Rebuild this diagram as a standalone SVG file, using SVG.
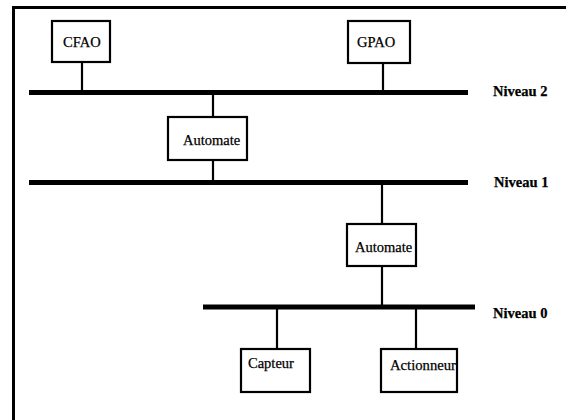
<svg xmlns="http://www.w3.org/2000/svg" width="566" height="420" viewBox="0 0 566 420">
<style>
.box{fill:#fff;stroke:#000;stroke-width:2.2}
.bus{stroke:#000;stroke-width:5}
.con{stroke:#000;stroke-width:2.2}
.frame{stroke:#000;stroke-width:3;fill:none}
text{font-family:'Liberation Serif','Times New Roman','DejaVu Serif',serif;fill:#000;stroke:#000;stroke-width:0.25}
.t{font-size:14.5px}
.lvl{font-size:14.5px;font-weight:bold}
</style>
<rect width="566" height="420" fill="#fff"/>
<g id="frame">
<path class="frame" d="M13.5,420 V7.5 H566"/>
</g>
<g id="buses">
<line id="bus2" class="bus" x1="29" y1="92.5" x2="468" y2="92.5"/>
<line id="bus1" class="bus" x1="29" y1="182.5" x2="468" y2="182.5"/>
<line id="bus0" class="bus" x1="203" y1="307" x2="475" y2="307"/>
</g>
<g id="connectors">
<line class="con" x1="82" y1="62" x2="82" y2="92"/>
<line class="con" x1="383" y1="63" x2="383" y2="92"/>
<line class="con" x1="213" y1="93" x2="213" y2="117"/>
<line class="con" x1="213" y1="160" x2="213" y2="182"/>
<line class="con" x1="382" y1="183" x2="382" y2="224"/>
<line class="con" x1="382" y1="266" x2="382" y2="307"/>
<line class="con" x1="277" y1="307" x2="277" y2="349"/>
<line class="con" x1="416" y1="307" x2="416" y2="349"/>
</g>
<g id="cfao">
<rect class="box" x="52" y="21" width="58" height="41"/>
<text class="t" x="63" y="47" font-family="Liberation Serif, serif">CFAO</text>
</g>
<g id="gpao">
<rect class="box" x="348" y="21" width="62" height="42"/>
<text class="t" x="357" y="47" font-family="Liberation Serif, serif">GPAO</text>
</g>
<g id="automate2">
<rect class="box" x="168" y="117" width="79" height="43"/>
<text class="t" x="183" y="145" font-family="Liberation Serif, serif">Automate</text>
</g>
<g id="automate1">
<rect class="box" x="347" y="224" width="69" height="42"/>
<text class="t" x="355" y="252" font-family="Liberation Serif, serif">Automate</text>
</g>
<g id="capteur">
<rect class="box" x="241" y="349" width="69" height="43"/>
<text class="t" x="248" y="368" font-family="Liberation Serif, serif">Capteur</text>
</g>
<g id="actionneur">
<rect class="box" x="381" y="349" width="76" height="43"/>
<text class="t" x="390" y="370" textLength="66" lengthAdjust="spacingAndGlyphs" font-family="Liberation Serif, serif">Actionneur</text>
</g>
<g id="labels">
<text class="lvl" x="493" y="96" font-family="Liberation Serif, serif">Niveau 2</text>
<text class="lvl" x="494" y="187" font-family="Liberation Serif, serif">Niveau 1</text>
<text class="lvl" x="493" y="318" font-family="Liberation Serif, serif">Niveau 0</text>
</g>
</svg>
